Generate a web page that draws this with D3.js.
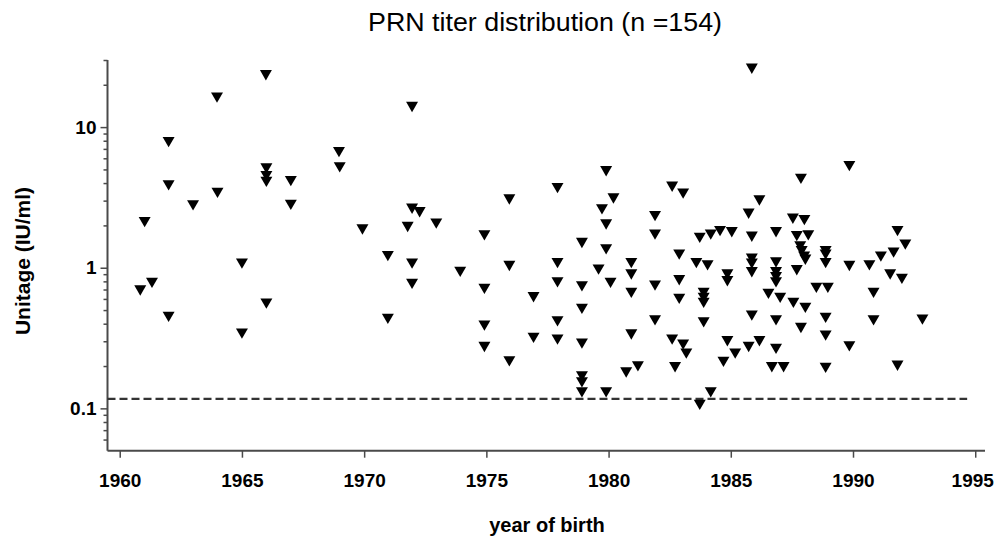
<!DOCTYPE html>
<html>
<head>
<meta charset="utf-8">
<script src="https://cdn.jsdelivr.net/npm/d3@7"></script>
<style>
  body { margin: 0; background: #fff; }
  text { font-family: "Liberation Sans", Arial, sans-serif; }
</style>
</head>
<body>
<div id="chart"></div>
<script>
// year of birth (fractional, as plotted)
const years = [
  1960.84, 1961.02, 1961.32, 1962.0, 1962.0, 1962.0, 1963.0, 1963.98, 1964.0, 1965.0,
  1965.0, 1965.98, 1966.0, 1966.0, 1966.0, 1966.0, 1967.0, 1967.0, 1968.97, 1969.0,
  1969.93, 1970.97, 1970.97, 1971.78, 1971.96, 1971.96, 1971.96, 1971.96, 1972.27, 1972.95,
  1973.93, 1974.92, 1974.92, 1974.92, 1974.92, 1975.94, 1975.94, 1975.94, 1976.93, 1976.93,
  1977.91, 1977.91, 1977.91, 1977.91, 1977.91, 1978.91, 1978.91, 1978.91, 1978.91, 1978.91,
  1978.91, 1978.91, 1979.59, 1979.73, 1979.9, 1979.9, 1979.9, 1979.9, 1980.08, 1980.2,
  1980.72, 1980.93, 1980.93, 1980.93, 1980.93, 1981.2, 1981.9, 1981.9, 1981.9, 1981.9,
  1982.6, 1982.6, 1982.72, 1982.89, 1982.89, 1982.89, 1983.05, 1983.05, 1983.18, 1983.59,
  1983.73, 1983.73, 1983.89, 1983.89, 1983.89, 1983.89, 1984.05, 1984.18, 1984.18, 1984.56,
  1984.7, 1984.86, 1984.86, 1984.86, 1985.04, 1985.18, 1985.73, 1985.73, 1985.86, 1985.86,
  1985.86, 1985.86, 1985.86, 1985.86, 1986.17, 1986.17, 1986.54, 1986.68, 1986.85, 1986.85,
  1986.85, 1986.85, 1986.85, 1986.85, 1986.85, 1987.02, 1987.16, 1987.54, 1987.56, 1987.7,
  1987.7, 1987.84, 1987.87, 1987.87, 1987.9, 1988.0, 1988.01, 1988.05, 1988.05, 1988.17,
  1988.5, 1988.88, 1988.88, 1988.88, 1988.88, 1988.88, 1988.88, 1988.97, 1989.85, 1989.85,
  1989.85, 1990.67, 1990.84, 1990.84, 1991.14, 1991.52, 1991.66, 1991.82, 1991.82, 1992.0,
  1992.14, 1992.84
];

// PRN titer, IU/ml
const titers = [
  0.689, 2.11, 0.780, 7.82, 3.85, 0.447, 2.78, 16.2, 3.41, 1.07,
  0.340, 23.4, 5.08, 4.48, 4.08, 0.556, 4.13, 2.80, 6.64, 5.17,
  1.87, 1.21, 0.433, 1.95, 13.9, 2.63, 1.07, 0.768, 2.48, 2.06,
  0.935, 1.70, 0.708, 0.388, 0.273, 3.06, 1.03, 0.216, 0.617, 0.317,
  3.68, 1.08, 0.788, 0.416, 0.308, 1.50, 0.738, 0.510, 0.289, 0.169,
  0.153, 0.130, 0.971, 2.60, 4.86, 2.03, 1.35, 0.130, 0.781, 3.11,
  0.180, 1.08, 0.895, 0.663, 0.335, 0.199, 2.33, 1.72, 0.747, 0.423,
  3.77, 0.308, 0.196, 1.24, 0.815, 0.601, 3.37, 0.284, 0.245, 1.08,
  1.63, 0.106, 0.663, 0.611, 0.563, 0.409, 1.04, 1.72, 0.130, 1.82,
  0.214, 0.895, 0.802, 0.300, 1.79, 0.245, 2.42, 0.273, 26.0, 1.66,
  1.16, 1.07, 0.929, 0.457, 3.01, 0.300, 0.652, 0.196, 1.79, 1.09,
  0.929, 0.856, 0.788, 0.423, 0.265, 0.611, 0.196, 2.23, 0.563, 1.68,
  0.960, 1.42, 4.29, 0.373, 1.31, 1.20, 2.18, 1.14, 0.519, 1.70,
  0.719, 1.31, 1.24, 1.08, 0.440, 0.329, 0.194, 0.719, 5.28, 1.03,
  0.276, 1.04, 0.663, 0.423, 1.20, 0.895, 1.28, 1.82, 0.201, 0.834,
  1.46, 0.428
];

const xTickValues = [1960, 1965, 1970, 1975, 1980, 1985, 1990, 1995];
const yTickValues = [0.1, 1, 10];
const yTickLabels = ["0.1", "1", "10"];
const yMinorTicks = [0.06, 0.07, 0.08, 0.09, 0.2, 0.3, 0.4, 0.5, 0.6, 0.7, 0.8, 0.9,
  2, 3, 4, 5, 6, 7, 8, 9, 20, 30];
const cutoff = 0.117;

const width = 994, height = 538;
const axisColor = "#4a4a4a";

const svg = d3.select("#chart").append("svg")
  .attr("width", width)
  .attr("height", height);

const x = d3.scaleLinear().domain([1959.5, 1995.4]).range([107.5, 985]);
const y = d3.scaleLog().domain([0.05, 30]).range([450.7, 60]);

// title
svg.append("text")
  .attr("x", 545).attr("y", 31)
  .attr("text-anchor", "middle")
  .attr("textLength", 354)
  .attr("lengthAdjust", "spacingAndGlyphs")
  .style("font-size", "25px")
  .text("PRN titer distribution (n =154)");

// x axis
const xAxis = svg.append("g")
  .attr("transform", "translate(0,450.7)")
  .call(d3.axisBottom(x).tickValues(xTickValues).tickFormat(d3.format("d")).tickSize(7).tickPadding(16));
xAxis.select(".domain").attr("stroke", axisColor).attr("stroke-width", 2)
  .attr("d", "M107.5,0H985");
xAxis.selectAll(".tick line").attr("stroke", axisColor).attr("stroke-width", 1.5);
xAxis.selectAll(".tick text")
  .attr("fill", "#000")
  .style("font-size", "19px").style("font-weight", "bold").style("font-family", "Liberation Sans, Arial, sans-serif");
// keep the last label inside the window
xAxis.selectAll(".tick text").filter(d => d === 1995).attr("dx", -3);

// y axis: minor ticks first, then major
const yMinor = svg.append("g")
  .attr("transform", "translate(107.5,0)")
  .call(d3.axisLeft(y).tickValues(yMinorTicks).tickSize(4).tickFormat(""));
yMinor.select(".domain").remove();
yMinor.selectAll(".tick line").attr("stroke", axisColor).attr("stroke-width", 1.5);

const yAxis = svg.append("g")
  .attr("transform", "translate(107.5,0)")
  .call(d3.axisLeft(y).tickValues(yTickValues).tickSize(7).tickPadding(4)
    .tickFormat((d, i) => yTickLabels[i]));
yAxis.select(".domain").attr("stroke", axisColor).attr("stroke-width", 2)
  .attr("d", "M0,450.7V60");
yAxis.selectAll(".tick line").attr("stroke", axisColor).attr("stroke-width", 1.5);
yAxis.selectAll(".tick text")
  .attr("fill", "#000")
  .style("font-size", "19px").style("font-weight", "bold").style("font-family", "Liberation Sans, Arial, sans-serif");

// axis titles
svg.append("text")
  .attr("x", 547).attr("y", 532)
  .attr("text-anchor", "middle")
  .style("font-size", "20px").style("font-weight", "bold")
  .text("year of birth");

svg.append("text")
  .attr("transform", "translate(30,261) rotate(-90)")
  .attr("text-anchor", "middle")
  .style("font-size", "21px").style("font-weight", "bold")
  .text("Unitage (IU/ml)");

// cutoff line
svg.append("line")
  .attr("x1", x(1959.5)).attr("x2", x(1994.67))
  .attr("y1", y(cutoff)).attr("y2", y(cutoff))
  .attr("stroke", "#333")
  .attr("stroke-width", 2.2)
  .attr("stroke-dasharray", "8,4");

// points: downward triangles
const tri = d3.symbol().type(d3.symbolTriangle).size(62);
const points = years.map((yr, i) => ({ year: yr, titer: titers[i] }));

svg.append("g")
  .selectAll("path")
  .data(points)
  .enter()
  .append("path")
  .attr("d", tri)
  .attr("transform", d => "translate(" + x(d.year) + "," + (y(d.titer) - 1.7) + ") rotate(180)")
  .attr("fill", "#000");
</script>
</body>
</html>
